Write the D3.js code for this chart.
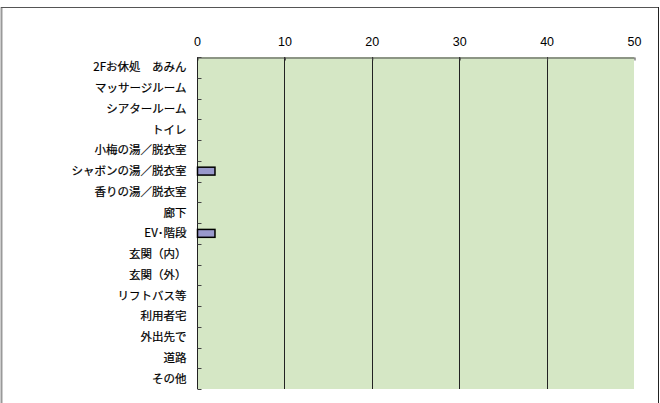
<!DOCTYPE html>
<html><head><meta charset="utf-8">
<script src="https://cdn.jsdelivr.net/npm/d3@7"></script>
<style>html,body{margin:0;padding:0;background:#fff;}svg{display:block;}</style>
</head><body>
<script>
const categories = ["2Fお休処　あみん","マッサージルーム","シアタールーム","トイレ","小梅の湯／脱衣室","シャボンの湯／脱衣室","香りの湯／脱衣室","廊下","EV･階段","玄関（内）","玄関（外）","リフトバス等","利用者宅","外出先で","道路","その他"];
const values = [0,0,0,0,0,2,0,0,2,0,0,0,0,0,0,0];
const xTicks = [0,10,20,30,40,50];

const W=660,H=403;
const m={left:197,top:57,right:634,bottom:389};
const svg=d3.select("body").append("svg").attr("width",W).attr("height",H);
const font="'Noto Sans CJK JP', 'Liberation Sans', sans-serif";
const numFont="'Liberation Sans', Arial, sans-serif";

// outer frame
svg.append("line").attr("x1",1.5).attr("x2",1.5).attr("y1",7).attr("y2",H).attr("stroke","#999").attr("stroke-width",2);
svg.append("line").attr("x1",1).attr("x2",658).attr("y1",7.5).attr("y2",7.5).attr("stroke","#555").attr("stroke-width",1);
svg.append("line").attr("x1",658.5).attr("x2",658.5).attr("y1",7).attr("y2",H).attr("stroke","#222").attr("stroke-width",1);

const x=d3.scaleLinear().domain([0,50]).range([m.left,m.right]);
const y=d3.scaleBand().domain(categories).range([m.top,m.bottom]).paddingInner(0.62).paddingOuter(0.31);

svg.append("rect").attr("x",m.left).attr("y",m.top).attr("width",m.right-m.left).attr("height",m.bottom-m.top).attr("fill","#d5e7c5");

// gridlines
svg.append("g").selectAll("line").data(xTicks.filter(d=>d>0&&d<50)).join("line")
  .attr("x1",d=>Math.round(x(d))+0.5).attr("x2",d=>Math.round(x(d))+0.5)
  .attr("y1",m.top).attr("y2",m.bottom).attr("stroke","#222").attr("stroke-width",1);

// top axis
const xa=svg.append("g").attr("transform",`translate(0,${m.top+0.5})`)
  .call(d3.axisTop(x).tickValues(xTicks).tickSize(3).tickSizeOuter(0).tickPadding(9));
xa.select(".domain").attr("stroke","#444");
xa.selectAll(".tick line").attr("stroke","#444").attr("transform","translate(0.5,3)");
xa.selectAll("text").attr("font-family",numFont).attr("font-size",12.5).attr("fill","#000");

// left axis
const bandStep=(m.bottom-m.top)/categories.length;
const ya=svg.append("g").attr("transform",`translate(${m.left+0.5},0)`);
ya.append("line").attr("x1",0).attr("x2",0).attr("y1",m.top).attr("y2",m.bottom).attr("stroke","#222");
ya.selectAll("line.t").data(d3.range(categories.length+1)).join("line").attr("class","t")
  .attr("x1",0).attr("x2",4).attr("y1",i=>Math.round(m.top+i*bandStep)+0.5).attr("y2",i=>Math.round(m.top+i*bandStep)+0.5)
  .attr("stroke","#444");
ya.selectAll("text").data(categories).join("text")
  .attr("x",-11).attr("y",d=>y(d)+y.bandwidth()/2).attr("dy","0.35em")
  .attr("text-anchor","end").attr("font-family",font).attr("font-size",11.5).attr("fill","#000")
  .attr("stroke","#000").attr("stroke-width",0.2).text(d=>d);

// bars
svg.append("g").selectAll("rect").data(categories.map((c,i)=>({c,v:values[i]})).filter(d=>d.v>0)).join("rect")
  .attr("x",x(0)+0.5).attr("y",d=>y(d.c)).attr("width",d=>x(d.v)-x(0)).attr("height",y.bandwidth())
  .attr("fill","#9999cc").attr("stroke","#000").attr("stroke-width",1.5);
</script>
</body></html>
